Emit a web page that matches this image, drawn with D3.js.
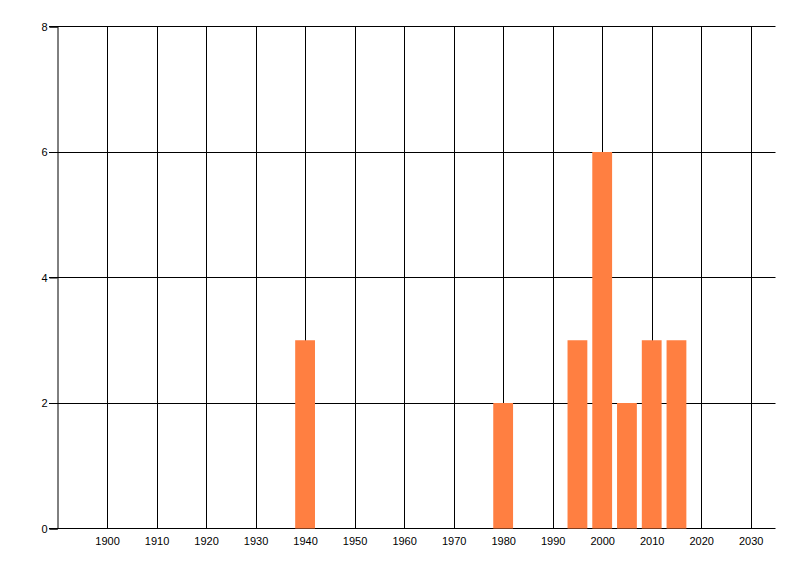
<!DOCTYPE html>
<html>
<head>
<meta charset="utf-8">
<script src="https://cdn.jsdelivr.net/npm/d3@7"></script>
<style>
  body { margin: 0; background: #fff; }
  svg { display: block; }
  text { font-family: "Liberation Sans", Arial, sans-serif; font-size: 11px; fill: #000; }
</style>
</head>
<body>
<svg width="800" height="576"></svg>
<script>
// data
var years = [1940, 1980, 1995, 2000, 2005, 2010, 2015];
var counts = [3, 2, 3, 6, 2, 3, 3];
var xTicks = [1900, 1910, 1920, 1930, 1940, 1950, 1960, 1970, 1980, 1990, 2000, 2010, 2020, 2030];
var yTicks = [0, 2, 4, 6, 8];

var svg = d3.select('svg');

var x = d3.scaleLinear().domain([1890, 2035]).range([57.5, 775.5]);
var y = d3.scaleLinear().domain([0, 8]).range([528.5, 26.5]);

// vertical grid
svg.append('g').selectAll('line')
  .data(xTicks)
  .enter().append('line')
  .attr('x1', function(d) { return Math.round(x(d)) + 0.5; })
  .attr('x2', function(d) { return Math.round(x(d)) + 0.5; })
  .attr('y1', y(8))
  .attr('y2', y(0))
  .attr('stroke', '#000');

// horizontal grid (also sticks out left like the tick marks)
svg.append('g').selectAll('line')
  .data(yTicks)
  .enter().append('line')
  .attr('x1', 49)
  .attr('x2', x(2035))
  .attr('y1', function(d) { return Math.round(y(d) - 0.5) + 0.5; })
  .attr('y2', function(d) { return Math.round(y(d) - 0.5) + 0.5; })
  .attr('stroke', '#000');

// bars (each 4 years wide)
svg.append('g').selectAll('rect')
  .data(years)
  .enter().append('rect')
  .attr('x', function(d) { return x(d - 2); })
  .attr('width', function(d) { return x(d + 2) - x(d - 2); })
  .attr('y', function(d, i) { return y(counts[i]); })
  .attr('height', function(d, i) { return y(0) - y(counts[i]); })
  .attr('fill', '#ff7f41');

// left axis
var yAxis = svg.append('g')
  .attr('transform', 'translate(57.5,0)')
  .call(d3.axisLeft(y).tickValues(yTicks).tickSize(8).tickPadding(2).tickFormat(d3.format('d')));
yAxis.select('.domain').attr('stroke', '#000');
yAxis.selectAll('text').style('font-family', null).style('font-size', null).attr('fill', '#000');
yAxis.attr('font-family', null).attr('font-size', null);

// bottom axis
var xAxis = svg.append('g')
  .attr('transform', 'translate(0,528.5)')
  .call(d3.axisBottom(x).tickValues(xTicks).tickSize(0).tickPadding(9).tickFormat(d3.format('d')));
xAxis.select('.domain').remove();
xAxis.attr('font-family', null).attr('font-size', null);
xAxis.selectAll('text').attr('fill', '#000');
</script>
</body>
</html>
